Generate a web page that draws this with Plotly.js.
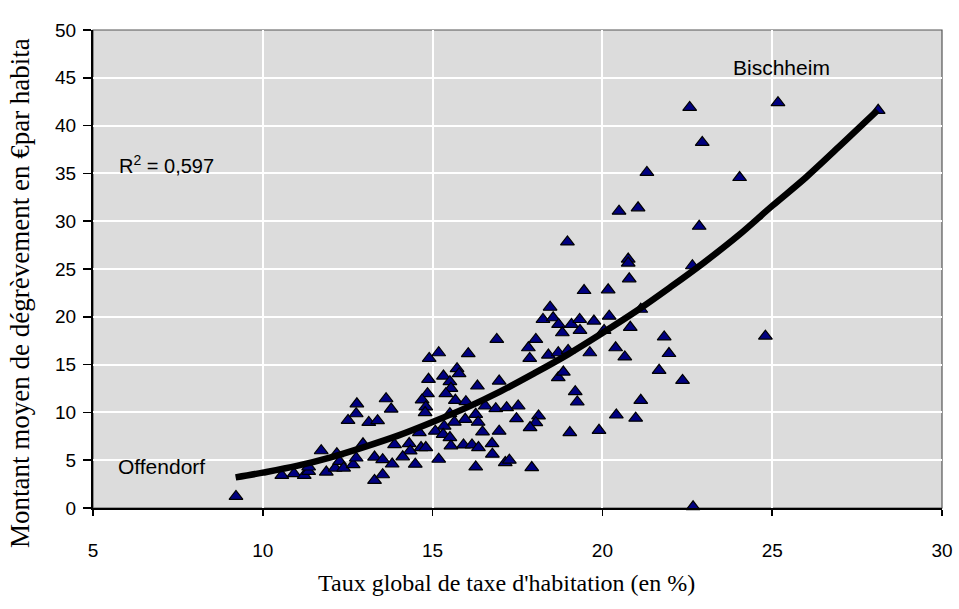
<!DOCTYPE html>
<html>
<head>
<meta charset="utf-8">
<script src="https://cdn.plot.ly/plotly-3.0.1.min.js"></script>
<style>html,body{margin:0;padding:0;background:#fff;}#chart{width:959px;height:609px;}</style>
</head>
<body>
<div id="chart"></div>
<script>
// Taux global de taxe d'habitation (en %)
const tauxX = [
  9.21,10.56,10.92,11.22,11.35,11.35,11.72,11.87,12.18,12.13,12.26,12.38,12.66,12.75,12.51,12.75,12.77,12.95,13.12,13.38,13.29,13.53,13.29,13.53,13.81,13.63,13.78,13.88,
  18.46,18.25,18.55,18.71,18.82,19.09,19.33,19.34,19.75,20.2,20.05,
  16.89,18.04,17.82,17.86,18.41,18.7,18.99,19.63,20.39,
  15.18,14.9,16.05,15.72,15.78,14.88,15.32,15.51,15.54,15.39,16.32,16.96,
  14.85,14.69,14.8,14.78,15.67,15.98,16.55,16.86,17.18,17.52,16.27,15.51,18.12,18.04,17.87,17.47,16.34,15.96,15.64,15.34,15.08,14.61,16.96,16.47,15.31,15.51,15.54,15.91,16.16,16.35,16.75,16.76,
  14.31,14.34,14.66,14.8,14.12,14.49,15.18,16.27,17.14,17.26,17.92,19.04,19.9,19.2,19.26,18.7,18.85,20.41,
  20.49,21.05,22.85,18.97,20.76,20.76,20.79,22.65,19.46,20.17,21.13,20.82,21.82,21.96,20.66,21.67,22.36,21.13,20.98,
  22.57,25.17,28.12,22.94,24.04,24.8,22.67,21.31
];
// Montant moyen de dégrèvement (€ par habitant)
const montantY = [
  1.21,3.41,3.59,3.41,3.83,4.29,5.99,3.76,5.68,4.18,4.87,4.18,4.53,5.23,9.16,9.86,10.9,6.72,8.95,9.13,5.33,5.05,2.89,3.48,4.6,11.43,10.35,6.62,
  21.0,19.72,19.9,19.2,18.33,19.2,19.72,18.57,19.55,20.07,18.57,
  17.63,17.63,16.76,15.65,16.0,16.24,16.48,16.24,16.76,
  16.24,15.65,16.14,14.57,14.05,13.46,13.8,13.21,12.52,11.96,12.76,13.28,
  11.96,11.3,10.57,9.98,11.26,11.12,10.67,10.39,10.5,10.67,9.8,9.87,9.63,8.93,8.41,9.35,8.98,9.28,8.98,8.56,8.04,7.89,8.04,7.96,7.71,7.37,6.5,6.6,6.6,6.32,6.74,5.63,
  6.74,5.97,6.32,6.32,5.35,4.58,5.1,4.3,4.75,5.0,4.23,7.89,8.13,12.17,11.09,13.63,14.22,9.73,
  31.05,31.4,29.47,27.83,26.04,25.62,23.97,25.34,22.75,22.82,20.79,18.9,17.9,16.16,15.8,14.4,13.35,11.26,9.4,
  41.9,42.4,41.6,38.24,34.57,17.98,0.13,35.1
];
// Courbe de tendance
const trendX = [9.2,10,11,12,13,14,15,16,17,18,19,20,21,22,23,24,25,26,27,28.1];
const trendY = [3.2,3.7,4.4,5.3,6.4,7.6,9.0,10.5,12.2,14.1,16.1,18.3,20.6,23.1,25.7,28.5,31.6,34.6,37.9,41.6];

const xTitle = "Taux global de taxe d'habitation (en %)";
const yTitle = "Montant moyen de dégrèvement en €par habita";
const r2Text = "R<sup>2</sup> = 0,597";
const labelBischheim = "Bischheim";
const labelOffendorf = "Offendorf";

const sans = "Liberation Sans, Arial, sans-serif";
const serif = "Liberation Serif, Times New Roman, serif";

const traces = [
  {
    type: 'scatter', mode: 'markers', x: tauxX, y: montantY, cliponaxis: false,
    marker: {symbol: 'triangle-up', size: 12, color: '#000080', line: {color: '#000000', width: 1.2}},
    hoverinfo: 'x+y', showlegend: false
  },
  {
    type: 'scatter', mode: 'lines', x: trendX, y: trendY,
    line: {color: '#000000', width: 6.5, shape: 'spline'},
    hoverinfo: 'skip', showlegend: false
  }
];

const layout = {
  width: 959, height: 609,
  margin: {l: 93, r: 17, t: 30, b: 101},
  paper_bgcolor: '#ffffff',
  plot_bgcolor: '#dcdcdc',
  showlegend: false,
  xaxis: {
    range: [5, 30], dtick: 5, tick0: 5, autorange: false,
    showgrid: true, gridcolor: '#ffffff', gridwidth: 2,
    zeroline: false, showline: true, linecolor: '#000000', linewidth: 2,
    ticks: 'outside', ticklen: 6, tickwidth: 1.5, tickcolor: '#000000',
    ticklabelstandoff: 18,
    tickfont: {family: sans, size: 19, color: '#000000'}
  },
  yaxis: {
    range: [0, 50], dtick: 5, tick0: 0, autorange: false,
    showgrid: true, gridcolor: '#ffffff', gridwidth: 2,
    zeroline: false, showline: true, linecolor: '#000000', linewidth: 2,
    ticks: 'outside', ticklen: 8, tickwidth: 1.5, tickcolor: '#000000',
    ticklabelstandoff: 3,
    tickfont: {family: sans, size: 19, color: '#000000'}
  },
  shapes: [
    {type: 'rect', xref: 'paper', yref: 'paper', x0: 0, x1: 1, y0: 0, y1: 1,
     line: {color: '#555555', width: 1.2}, fillcolor: 'rgba(0,0,0,0)', layer: 'below'}
  ],
  annotations: [
    {text: labelBischheim, x: 25.27, y: 46.1, xref: 'x', yref: 'y', showarrow: false,
     xanchor: 'center', yanchor: 'middle', font: {family: sans, size: 21, color: '#000'}},
    {text: labelOffendorf, x: 7.03, y: 4.32, xref: 'x', yref: 'y', showarrow: false,
     xanchor: 'center', yanchor: 'middle', font: {family: sans, size: 21, color: '#000'}},
    {text: r2Text, x: 7.15, y: 35.9, xref: 'x', yref: 'y', showarrow: false,
     xanchor: 'center', yanchor: 'middle', font: {family: sans, size: 20, color: '#000'}},
    {text: xTitle, x: 0.4876, y: -0.157, xref: 'paper', yref: 'paper', showarrow: false,
     xanchor: 'center', yanchor: 'middle', font: {family: serif, size: 24, color: '#000'}},
    {text: yTitle, x: -0.086, y: 0.4498, xref: 'paper', yref: 'paper', showarrow: false,
     textangle: -90, xanchor: 'center', yanchor: 'middle', font: {family: serif, size: 27, color: '#000'}}
  ]
};

Plotly.newPlot('chart', traces, layout, {displayModeBar: false, staticPlot: true});
</script>
</body>
</html>
